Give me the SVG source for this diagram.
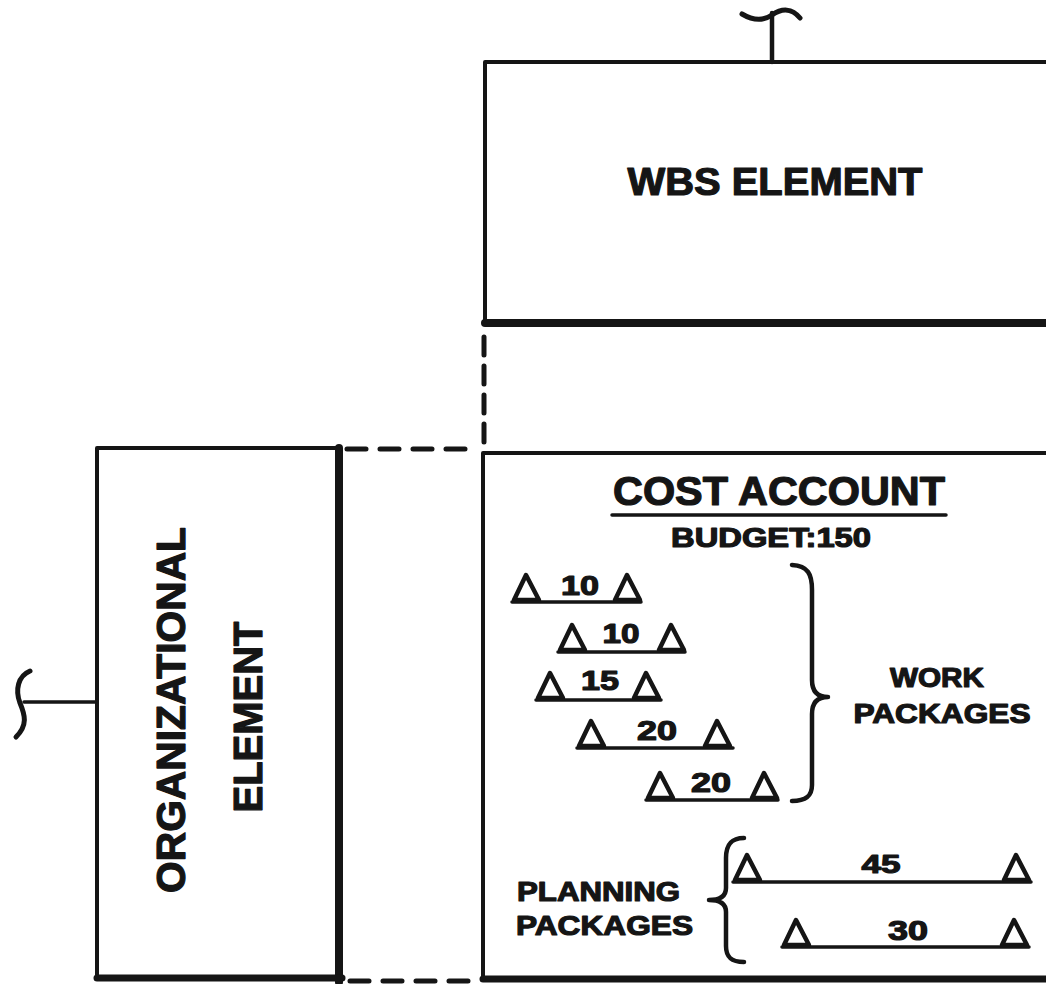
<svg xmlns="http://www.w3.org/2000/svg" width="1046" height="984" viewBox="0 0 1046 984">
<style>
.ln{stroke:#151515;fill:none;stroke-linecap:round;stroke-linejoin:round}
.t{font-family:"Liberation Sans",Arial,Helvetica,sans-serif;font-weight:bold;fill:#151515;stroke:#151515;stroke-width:1.2;stroke-linejoin:round}
.tri{stroke:#151515;stroke-width:4.5;fill:none;stroke-linejoin:round}
.dash{stroke:#151515;stroke-width:5;fill:none;stroke-linecap:round}
</style>
<defs>
<path id="tri" class="tri" d="M2,-2 L14,-27 L27,-2 Z"/>
</defs>
<rect width="1046" height="984" fill="#fff"/>

<g id="connectors">
<path class="dash" d="M347,449 L467,449" stroke-dasharray="19 14"/>
<path class="dash" d="M350,981 L470,981" stroke-dasharray="19 14"/>
<path class="dash" d="M484,337 L484,445" stroke-dasharray="18 11"/>
<path class="ln" stroke-width="4.5" d="M772,13 L772,62"/>
<path class="ln" stroke-width="5" d="M742,14 C752,20 762,22 772,15 C782,8 792,8 800,18"/>
<path class="ln" stroke-width="3.5" d="M24,702 L97,702"/>
<path class="ln" stroke-width="5" d="M30,671 C18,676 15,690 20,703 C25,715 28,725 16,737"/>
</g>

<g id="wbs-element">
<path class="ln" stroke-width="4" d="M1050,62 L485,62 L485,323"/>
<path class="ln" stroke-width="8" stroke-linecap="butt" d="M485,323 L1050,323"/>
<text class="t" x="775" y="195" font-size="38" text-anchor="middle" textLength="295" lengthAdjust="spacingAndGlyphs">WBS ELEMENT</text>
</g>

<g id="organizational-element">
<path class="ln" stroke-width="4" d="M97,978 L97,448 L339,448"/>
<path class="ln" stroke-width="8" stroke-linecap="butt" d="M339,448 L339,982"/>
<path class="ln" stroke-width="7" stroke-linecap="butt" d="M97,978 L342,978"/>
<text class="t" font-size="40" text-anchor="middle" transform="translate(185,710) rotate(-90)" textLength="366" lengthAdjust="spacingAndGlyphs">ORGANIZATIONAL</text>
<text class="t" font-size="40" text-anchor="middle" transform="translate(262,717) rotate(-90)" textLength="191" lengthAdjust="spacingAndGlyphs">ELEMENT</text>
</g>

<g id="cost-account">
<path class="ln" stroke-width="4" d="M1050,453 L483,453 L483,978"/>
<path class="ln" stroke-width="7" stroke-linecap="butt" d="M483,979 L1050,979"/>
<text class="t" x="779" y="505" font-size="41" text-anchor="middle" textLength="332" lengthAdjust="spacingAndGlyphs">COST ACCOUNT</text>
<path class="ln" stroke-width="3.5" d="M612,515 L946,515"/>
<text class="t" x="771" y="547" font-size="27" text-anchor="middle" textLength="200" lengthAdjust="spacingAndGlyphs">BUDGET:150</text>
</g>

<g id="work-packages">
<g id="wp1">
<use href="#tri" x="512" y="602"/><use href="#tri" x="613" y="602"/>
<path class="ln" stroke-width="3.5" d="M512,602 L641,602"/>
<text class="t" x="580" y="595" font-size="28" text-anchor="middle" textLength="38" lengthAdjust="spacingAndGlyphs">10</text>
</g>
<g id="wp2">
<use href="#tri" x="558" y="652"/><use href="#tri" x="657" y="652"/>
<path class="ln" stroke-width="3.5" d="M558,652 L685,652"/>
<text class="t" x="621" y="643" font-size="28" text-anchor="middle" textLength="37" lengthAdjust="spacingAndGlyphs">10</text>
</g>
<g id="wp3">
<use href="#tri" x="536" y="700"/><use href="#tri" x="632" y="700"/>
<path class="ln" stroke-width="3.5" d="M536,700 L661,700"/>
<text class="t" x="600" y="690" font-size="28" text-anchor="middle" textLength="38" lengthAdjust="spacingAndGlyphs">15</text>
</g>
<g id="wp4">
<use href="#tri" x="577" y="748"/><use href="#tri" x="703" y="748"/>
<path class="ln" stroke-width="3.5" d="M577,748 L733,748"/>
<text class="t" x="657" y="740" font-size="28" text-anchor="middle" textLength="40" lengthAdjust="spacingAndGlyphs">20</text>
</g>
<g id="wp5">
<use href="#tri" x="646" y="800"/><use href="#tri" x="750" y="800"/>
<path class="ln" stroke-width="3.5" d="M646,800 L778,800"/>
<text class="t" x="711" y="792" font-size="28" text-anchor="middle" textLength="40" lengthAdjust="spacingAndGlyphs">20</text>
</g>
<path class="ln" stroke-width="4.5" d="M792,565 C808,566 812,574 812,590 L812,680 C812,692 818,697 828,697 C818,697 812,702 812,714 L812,785 C812,796 806,801 792,801"/>
<text class="t" x="937" y="687" font-size="27" text-anchor="middle" textLength="94" lengthAdjust="spacingAndGlyphs">WORK</text>
<text class="t" x="942" y="723" font-size="27" text-anchor="middle" textLength="177" lengthAdjust="spacingAndGlyphs">PACKAGES</text>
</g>

<g id="planning-packages">
<text class="t" x="517" y="901" font-size="27" textLength="163" lengthAdjust="spacingAndGlyphs">PLANNING</text>
<text class="t" x="516" y="935" font-size="27" textLength="177" lengthAdjust="spacingAndGlyphs">PACKAGES</text>
<path class="ln" stroke-width="4.5" d="M744,838 C730,838 726,846 726,858 L726,888 C726,896 720,900 709,900 C720,900 726,904 726,912 L726,946 C726,956 730,962 744,962"/>
<g id="pp1">
<use href="#tri" x="733" y="882"/><use href="#tri" x="1002" y="882"/>
<path class="ln" stroke-width="3.5" d="M733,882 L1031,882"/>
<text class="t" x="881" y="873" font-size="26" text-anchor="middle" textLength="39" lengthAdjust="spacingAndGlyphs">45</text>
</g>
<g id="pp2">
<use href="#tri" x="782" y="947"/><use href="#tri" x="1000" y="947"/>
<path class="ln" stroke-width="3.5" d="M782,947 L1029,947"/>
<text class="t" x="908" y="940" font-size="27" text-anchor="middle" textLength="40" lengthAdjust="spacingAndGlyphs">30</text>
</g>
</g>
</svg>
